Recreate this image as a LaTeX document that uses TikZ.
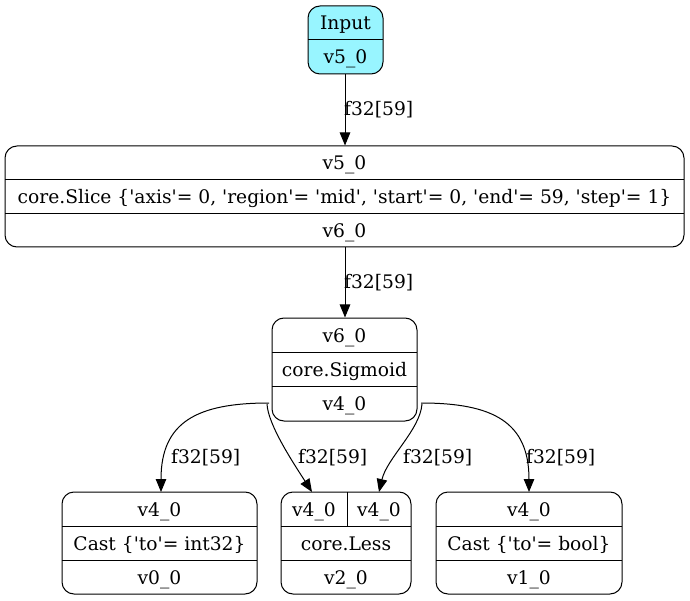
\documentclass[tikz,border=0pt]{standalone}
\usepackage{fontspec}
\setmainfont{DejaVu Serif}[Ligatures=TeXOff]
\usetikzlibrary{arrows.meta}
\begin{document}
\begin{tikzpicture}[x=1pt,y=-1pt,
  rec/.style={draw, rounded corners=12pt, line width=1pt, inner sep=0pt},
  sep/.style={line width=1pt},
  txt/.style={font=\fontsize{18.67}{22}\selectfont, inner sep=0pt, text height=14pt, text depth=0pt},
  arr/.style={-{Triangle[length=13pt,width=10.5pt]}, line width=1pt},
  lbl/.style={txt, anchor=west}]
\useasboundingbox (0,0) rectangle (690,601);
% Input
\node[rec, fill={rgb,255:red,152;green,245;blue,255}, minimum width=75pt, minimum height=68pt] (inp) at (345.5,40) {};
\draw[sep] (308,40) -- (383,40);
\node[txt] (inpA) at (345.5,23) {Input};
\node[txt] (inpB) at (345.5,57) {v5\_0};
% Slice
\node[rec, minimum width=679pt, minimum height=101pt] (slice) at (344.5,196.5) {};
\draw[sep] (5,180) -- (684,180);
\draw[sep] (5,213.5) -- (684,213.5);
\node[txt] (sliceA) at (344.5,163) {v5\_0};
\node[txt] (sliceB) at (344.5,197) {core.Slice \{'axis'= 0, 'region'= 'mid', 'start'= 0, 'end'= 59, 'step'= 1\}};
\node[txt] (sliceC) at (344.5,230.5) {v6\_0};
% Sigmoid
\node[rec, minimum width=145pt, minimum height=103pt] (sig) at (344.5,369.5) {};
\draw[sep] (272,352) -- (417,352);
\draw[sep] (272,386) -- (417,386);
\node[txt] (sigA) at (344.5,335) {v6\_0};
\node[txt] (sigB) at (344.5,369) {core.Sigmoid};
\node[txt] (sigC) at (344.5,403.5) {v4\_0};
% Cast int32
\node[rec, minimum width=195pt, minimum height=102pt] (ci) at (159.5,543) {};
\draw[sep] (62,526) -- (257,526);
\draw[sep] (62,560) -- (257,560);
\node[txt] (ciA) at (159.5,509) {v4\_0};
\node[txt] (ciB) at (159.5,543) {Cast \{'to'= int32\}};
\node[txt] (ciC) at (159.5,577) {v0\_0};
% Less
\node[rec, minimum width=130pt, minimum height=102pt] (less) at (346,543) {};
\draw[sep] (281,526) -- (411,526);
\draw[sep] (281,560) -- (411,560);
\draw[sep] (347,492) -- (347,526);
\node[txt] (lessA) at (314,509) {v4\_0};
\node[txt] (lessB) at (379,509) {v4\_0};
\node[txt] (lessC) at (346,543) {core.Less};
\node[txt] (lessD) at (346,577) {v2\_0};
% Cast bool
\node[rec, minimum width=186pt, minimum height=102pt] (cb) at (529,543) {};
\draw[sep] (436,526) -- (622,526);
\draw[sep] (436,560) -- (622,560);
\node[txt] (cbA) at (529,509) {v4\_0};
\node[txt] (cbB) at (529,543) {Cast \{'to'= bool\}};
\node[txt] (cbC) at (529,577) {v1\_0};
% edges
\draw[arr] (inp.south -| 345,0) -- (slice.north -| 345,0);
\node[lbl] (l1) at (344,109) {f32[59]};
\draw[arr] (slice.south -| 345,0) -- (sig.north -| 345,0);
\node[lbl] (l2) at (344,282) {f32[59]};
\coordinate (s1) at (269,403);
\coordinate (s2) at (267,404);
\coordinate (s3) at (422,404);
\coordinate (s4) at (421,403);
\coordinate (t1) at (161,492);
\coordinate (t2) at (312,492);
\coordinate (t3) at (379,492);
\coordinate (t4) at (529,492);
\draw[arr] (s1) .. controls (197,403) and (161,422) .. (t1);
\draw[arr] (s2) .. controls (268,425) and (294,464) .. (t2);
\draw[arr] (s3) .. controls (420,430) and (387,458) .. (t3);
\draw[arr] (s4) .. controls (493,403) and (529,422) .. (t4);
\node[lbl] (l3) at (171,456) {f32[59]};
\node[lbl] (l4) at (298,456) {f32[59]};
\node[lbl] (l5) at (403,456) {f32[59]};
\node[lbl] (l6) at (526,456) {f32[59]};
\end{tikzpicture}
\end{document}
